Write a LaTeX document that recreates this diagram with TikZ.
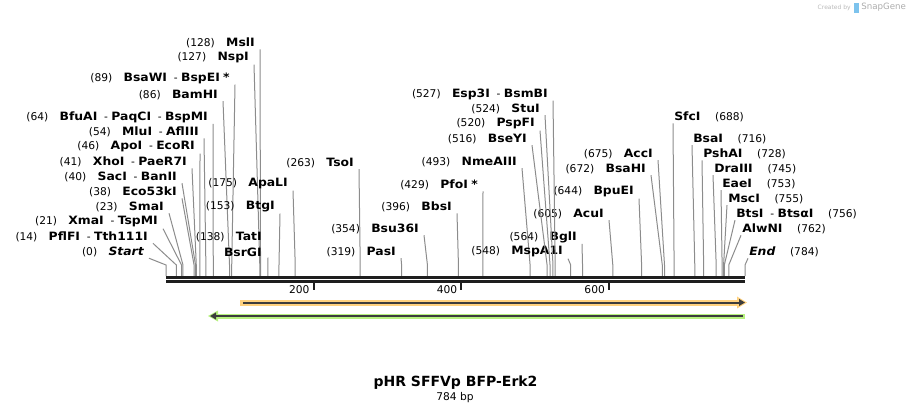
\documentclass[tikz,border=0pt]{standalone}
\usepackage{fontspec}
\setmainfont{DejaVu Sans}
\newfontfamily\enzfont[FakeStretch=1.08]{DejaVu Sans}
\usetikzlibrary{calc,arrows.meta}
\definecolor{cutgray}{HTML}{8C8C8C}
\definecolor{seqblack}{HTML}{1E1E1E}
\definecolor{orfband}{HTML}{FFD17E}
\definecolor{markband}{HTML}{B6F07E}
\definecolor{featline}{HTML}{3C3C3C}
\definecolor{snapblue}{HTML}{45A9E6}
\newcommand\enz[1]{{\enzfont\bfseries\fontsize{8.6}{10}\selectfont #1}}

\begin{document}
\begin{tikzpicture}[x=0.75pt,y=-0.75pt,
    site/.style={font=\fontsize{8}{10}\selectfont,inner sep=0pt},
    cut/.style={draw=cutgray,line width=0.75pt},
    strand/.style={draw=seqblack,line width=2pt},
    tick/.style={draw=seqblack,line width=1.5pt}]
\useasboundingbox (0,0) rectangle (911,415);

% enzymes with the label on the left of the cut
\foreach \p/\rx/\ry/\t [count=\i] in {
    128/255/43/{\enz{MslI}},
    127/249/58/{\enz{NspI}},
    89/230/78/{\enz{BsaWI}\ \ - \enz{BspEI}\ \enz{*}},
    86/218/95/{\enz{BamHI}},
    64/208/117/{\enz{BfuAI}\ \ - \enz{PaqCI}\ \ - \enz{BspMI}},
    54/199/132/{\enz{MluI}\ \ - \enz{AflIII}},
    46/195/147/{\enz{ApoI}\ \ - \enz{EcoRI}},
    41/187/162/{\enz{XhoI}\ \ - \enz{PaeR7I}},
    40/177/177/{\enz{SacI}\ \ - \enz{BanII}},
    38/177/192/{\enz{Eco53kI}},
    23/164/207/{\enz{SmaI}},
    21/158/222/{\enz{XmaI}\ \ - \enz{TspMI}},
    14/148/237/{\enz{PflFI}\ \ - \enz{Tth111I}},
    0/144/252/{\enz{\itshape Start}},
    175/288/184/{\enz{ApaLI}},
    153/275/207/{\enz{BtgI}},
    263/354/163/{\enz{TsoI}},
    354/419/229/{\enz{Bsu36I}},
    319/396/252/{\enz{PasI}},
    396/452/207/{\enz{BbsI}},
    429/478/185/{\enz{PfoI}\ \enz{*}},
    493/517/162/{\enz{NmeAIII}},
    548/563/252/{\enz{MspA1I}},
    564/577/237/{\enz{BglI}},
    605/604/214/{\enz{AcuI}},
    644/634/192/{\enz{BpuEI}},
    672/646/169/{\enz{BsaHI}},
    675/653/154/{\enz{AccI}},
    516/527/139/{\enz{BseYI}},
    520/535/124/{\enz{PspFI}},
    524/540/109/{\enz{StuI}},
    527/548/94/{\enz{Esp3I}\ \ - \enz{BsmBI}}}{
  \node[site,anchor=east] (lft\i) at (\rx,\ry) {(\p)\hspace{8.5pt}\t};
  \coordinate (knl\i) at ({166+\p*0.73852},265);
  \draw[cut] ($(lft\i.south east)+(5,1)$) -- (knl\i) -- ++(0,11);
}

% TatI and BsrGI share one cut
\node[site,anchor=east] (tat) at (262,237) {(138)\hspace{8.5pt}\enz{TatI}};
\node[site,anchor=east] (bsrg) at (262,252) {\enz{BsrGI}};
\coordinate (knbsrg) at ({166+138*0.73852},265);
\draw[cut] ($(bsrg.south east)+(6,1)$) -- (knbsrg) -- ++(0,11);

% enzymes with the label on the right
\foreach \p/\lx/\ry/\t [count=\i] in {
    688/674/117/{\enz{SfcI}},
    716/693/139/{\enz{BsaI}},
    728/703/154/{\enz{PshAI}},
    745/714/169/{\enz{DraIII}},
    753/722/184/{\enz{EaeI}},
    755/728/199/{\enz{MscI}},
    756/736/214/{\enz{BtsI}\ \ - \enz{BtsαI}},
    762/742/229/{\enz{AlwNI}},
    784/749/252/{\enz{\itshape End}}}{
  \node[site,anchor=west] (rgt\i) at (\lx,\ry) {\t\hspace{11pt}(\p)};
  \coordinate (knr\i) at ({166+\p*0.73852},265);
  \draw[cut] ($(rgt\i.south west)+(-1,1)$) -- (knr\i) -- ++(0,11);
}

% sequence
\coordinate (seqa) at (166,277.3);
\coordinate (seqb) at (745,277.3);
\draw[strand] (seqa) -- (seqb);
\draw[strand] ($(seqa)+(0,4.5)$) -- ($(seqb)+(0,4.5)$);
\foreach \t in {200,400,600}{
  \draw[tick] ({166+\t*0.73852},282) -- ++(0,8);
  \node[site,anchor=east] (num\t) at ({166+\t*0.73852-4},289.5) {\t};
}

% features
\draw[orfband,line width=4.5pt] (240,302.5) -- (739,302.5);
\fill[orfband] (737,296.5) -- (747,302.5) -- (737,308.5) -- cycle;
\draw[featline,line width=1.5pt,-{Triangle[length=4.5pt,width=5pt]}] (243,302.5) -- (745,302.5);
\draw[markband,line width=3.75pt] (745,316) -- (216,316);
\fill[markband] (218,310.5) -- (208,316) -- (218,321.5) -- cycle;
\draw[featline,line width=1.5pt,-{Triangle[length=4.5pt,width=5pt]}] (743,316) -- (210,316);

% title
\node[font=\fontsize{10.5}{12}\selectfont\bfseries,inner sep=0pt] (title) at (455.5,383) {pHR SFFVp BFP-Erk2};
\node[font=\fontsize{8}{10}\selectfont,inner sep=0pt] (size) at (455,398) {784 bp};

% watermark
\node[font=\fontsize{4.5}{5}\selectfont,text=gray!55,anchor=east,inner sep=0pt] (made) at (851,7.5) {Created by};
\fill[snapblue!70] (854,3) rectangle (858.5,12.5);
\node[font=\fontsize{6.5}{7}\selectfont,text=gray!65,anchor=west,inner sep=0pt] (snap) at (861,7.5) {SnapGene};
\end{tikzpicture}
\end{document}
